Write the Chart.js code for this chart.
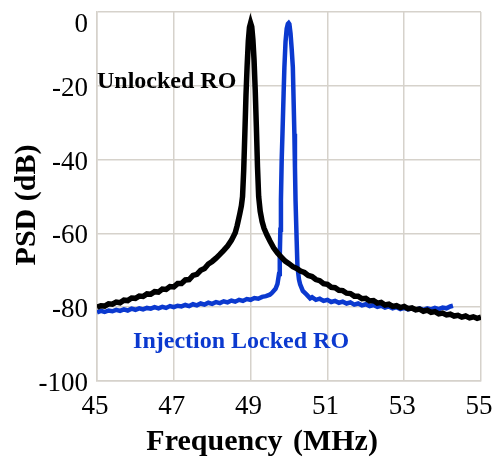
<!DOCTYPE html>
<html>
<head>
<meta charset="utf-8">
<script src="https://cdn.jsdelivr.net/npm/chart.js@4.4.1/dist/chart.umd.min.js"></script>
<style>
  html, body { margin: 0; padding: 0; background: #ffffff; }
  #wrap { width: 492px; height: 459px; }
</style>
</head>
<body>
<div id="wrap"><canvas id="psdChart" width="492" height="459"></canvas></div>
<script>
const seriesNames = ["Unlocked RO", "Injection Locked RO"];
const xTickValues = [45, 47, 49, 51, 53, 55];
const yTickValues = [-100, -80, -60, -40, -20, 0];

// free-running oscillator spectrum (MHz, dB)
const unlockedFreq = [
  45.0, 45.1, 45.2, 45.3, 45.4, 45.5, 45.6, 45.7, 45.8, 45.9,
  46.0, 46.1, 46.2, 46.3, 46.4, 46.5, 46.6, 46.7, 46.8, 46.9,
  47.0, 47.1, 47.2, 47.3, 47.4, 47.5, 47.6, 47.7, 47.8, 47.9,
  48.0, 48.1, 48.2, 48.3, 48.4, 48.5, 48.6, 48.65, 48.72, 48.76,
  48.79, 48.82, 48.85, 48.88, 48.91, 48.94, 48.97, 49.0, 49.03, 49.06,
  49.09, 49.12, 49.15, 49.18, 49.21, 49.25, 49.3, 49.35, 49.42, 49.5,
  49.6, 49.7, 49.8, 49.9, 50.0, 50.1, 50.2, 50.3, 50.4, 50.5,
  50.6, 50.7, 50.8, 50.9, 51.0, 51.1, 51.2, 51.3, 51.4, 51.5,
  51.6, 51.7, 51.8, 51.9, 52.0, 52.1, 52.2, 52.3, 52.4, 52.5,
  52.6, 52.7, 52.8, 52.9, 53.0, 53.1, 53.2, 53.3, 53.4, 53.5,
  53.6, 53.7, 53.8, 53.9, 54.0, 54.1, 54.2, 54.3, 54.4, 54.5,
  54.6, 54.7, 54.8, 54.9, 55.0
];
const unlockedPsd = [
  -80.0, -79.6, -79.7, -79.1, -79.2, -78.6, -78.8, -78.1, -78.2, -77.5,
  -77.6, -77.0, -77.1, -76.4, -76.5, -75.8, -75.9, -75.1, -75.2, -74.4,
  -74.5, -73.6, -73.6, -72.6, -72.5, -71.4, -71.1, -70.0, -69.5, -68.3,
  -67.6, -66.7, -65.7, -64.6, -63.4, -61.9, -59.8, -57.9, -54.6, -52.5,
  -50.0, -43.0, -33.0, -22.5, -14.5, -8.0, -4.2, -3.0, -4.0, -7.5,
  -13.0, -21.0, -31.0, -42.0, -50.0, -54.0, -56.8, -58.6, -60.3, -62.0,
  -63.9, -65.3, -66.4, -67.5, -68.2, -69.0, -69.5, -70.2, -70.6, -71.4,
  -71.7, -72.5, -72.8, -73.6, -73.8, -74.6, -74.7, -75.4, -75.5, -76.2,
  -76.3, -77.0, -77.0, -77.7, -77.6, -78.3, -78.2, -78.9, -78.7, -79.4,
  -79.2, -79.8, -79.6, -80.1, -79.8, -80.4, -80.2, -80.7, -80.5, -81.1,
  -80.8, -81.4, -81.2, -81.8, -81.6, -82.1, -81.9, -82.4, -82.2, -82.7,
  -82.4, -82.9, -82.6, -83.0, -82.7
];

// injection locked spectrum (MHz, dB)
const lockedFreq = [
  45.0, 45.1, 45.2, 45.3, 45.4, 45.5, 45.6, 45.7, 45.8, 45.9,
  46.0, 46.1, 46.2, 46.3, 46.4, 46.5, 46.6, 46.7, 46.8, 46.9,
  47.0, 47.1, 47.2, 47.3, 47.4, 47.5, 47.6, 47.7, 47.8, 47.9,
  48.0, 48.1, 48.2, 48.3, 48.4, 48.5, 48.6, 48.7, 48.8, 48.9,
  49.0, 49.1, 49.2, 49.3, 49.4, 49.5, 49.55, 49.65, 49.7, 49.74,
  49.76, 49.775, 49.79, 49.81, 49.83, 49.86, 49.88, 49.91, 49.94, 49.97,
  49.99, 50.01, 50.04, 50.07, 50.1, 50.12, 50.14, 50.155, 50.17, 50.2,
  50.22, 50.26, 50.29, 50.36, 50.46, 50.55, 50.6, 50.7, 50.8, 50.9,
  51.0, 51.1, 51.2, 51.3, 51.4, 51.5, 51.6, 51.7, 51.8, 51.9,
  52.0, 52.1, 52.2, 52.3, 52.4, 52.5, 52.6, 52.7, 52.8, 52.9,
  53.0, 53.1, 53.2, 53.3, 53.4, 53.5, 53.6, 53.7, 53.8, 53.9,
  54.0, 54.1, 54.2, 54.27
];
const lockedPsd = [
  -81.4, -81.0, -81.3, -80.9, -81.1, -80.7, -81.0, -80.6, -80.9, -80.4,
  -80.7, -80.3, -80.6, -80.2, -80.4, -80.0, -80.3, -79.9, -80.2, -79.7,
  -80.0, -79.6, -79.8, -79.4, -79.7, -79.2, -79.5, -79.0, -79.3, -78.8,
  -79.1, -78.6, -78.9, -78.4, -78.7, -78.2, -78.5, -78.0, -78.3, -77.8,
  -78.0, -77.5, -77.7, -77.2, -77.0, -76.6, -76.2, -75.0, -73.7, -71.0,
  -66.0, -59.0, -51.0, -40.0, -33.0, -22.0, -15.0, -8.0, -4.5, -3.2,
  -3.0, -3.3, -5.8, -10.0, -15.0, -24.0, -33.0, -42.0, -51.0, -62.0,
  -69.0, -72.5, -73.8, -75.6, -76.6, -77.6, -77.3, -78.0, -77.7, -78.3,
  -78.0, -78.6, -78.3, -78.8, -78.5, -79.0, -78.7, -79.3, -79.0, -79.5,
  -79.2, -79.7, -79.4, -79.9, -79.6, -80.1, -79.8, -80.3, -80.0, -80.5,
  -80.2, -80.6, -80.3, -80.7, -80.3, -80.7, -80.3, -80.6, -80.2, -80.5,
  -80.1, -80.3, -79.8, -79.6
];

const BLUE = "#0b39cf";
const GRID = "#d6d2cb";
const SERIF = "'Liberation Serif', 'Times New Roman', serif";

function toPoints(xs, ys) {
    return xs.map((x, i) => ({ x: x, y: ys[i] }));
}

// curve names and both axis titles are drawn by hand
const plotNotes = {
    id: "plotNotes",
    afterDatasetsDraw(chart) {
        const { ctx, chartArea, scales } = chart;
        const x = scales.x, y = scales.y;
        ctx.save();
        ctx.textAlign = "left";
        ctx.textBaseline = "alphabetic";
        ctx.font = "bold 24px " + SERIF;
        ctx.fillStyle = "#000000";
        ctx.fillText(seriesNames[0], x.getPixelForValue(45.0), y.getPixelForValue(-20.6));
        ctx.fillStyle = BLUE;
        ctx.fillText(seriesNames[1], x.getPixelForValue(45.94), y.getPixelForValue(-91.1));

        ctx.fillStyle = "#000000";
        ctx.font = "bold 30px " + SERIF;
        ctx.wordSpacing = "3px";
        ctx.textAlign = "center";
        ctx.fillText("Frequency (MHz)", chartArea.left + chartArea.width * 0.43, chartArea.bottom + 69);

        ctx.wordSpacing = "0px";
        ctx.textBaseline = "middle";
        ctx.translate(27, chartArea.top + chartArea.height * 0.523);
        ctx.rotate(-Math.PI / 2);
        ctx.fillText("PSD (dB)", 0, 0);
        ctx.restore();
    }
};

new Chart(document.getElementById("psdChart"), {
    type: "line",
    data: {
        datasets: [{
            label: seriesNames[0],
            data: toPoints(unlockedFreq, unlockedPsd),
            borderColor: "#000000",
            borderWidth: 5.5,
            pointRadius: 0,
            tension: 0
        }, {
            label: seriesNames[1],
            data: toPoints(lockedFreq, lockedPsd),
            borderColor: BLUE,
            borderWidth: 4.5,
            pointRadius: 0,
            tension: 0
        }]
    },
    options: {
        responsive: false,
        animation: false,
        layout: {
            padding: { left: 0, right: 11, top: 12, bottom: 0 }
        },
        plugins: {
            legend: { display: false },
            tooltip: { enabled: false }
        },
        scales: {
            x: {
                type: "linear",
                min: 45,
                max: 55,
                afterBuildTicks: function(scale) {
                    scale.ticks = xTickValues.map(v => ({ value: v }));
                },
                afterFit: function(scale) {
                    scale.height = 78;
                    scale.paddingLeft = 0;
                    scale.paddingRight = 0;
                },
                ticks: {
                    color: "#000000",
                    font: { family: SERIF, size: 27 },
                    padding: 10,
                    labelOffset: -2,
                    maxRotation: 0
                },
                grid: {
                    color: GRID,
                    lineWidth: 1.5,
                    drawTicks: false
                },
                border: { color: GRID, width: 1.5 }
            },
            y: {
                min: -100,
                max: 0,
                afterBuildTicks: function(scale) {
                    scale.ticks = yTickValues.map(v => ({ value: v }));
                },
                afterFit: function(scale) {
                    scale.width = 97;
                    scale.paddingTop = 0;
                    scale.paddingBottom = 0;
                },
                ticks: {
                    color: "#000000",
                    font: { family: SERIF, size: 27, lineHeight: 0.7 },
                    padding: 9,
                    labelOffset: 3,
                    // the top label sits just below the frame edge
                    callback: function(value) {
                        return value === 0 ? ["", "0"] : value;
                    }
                },
                grid: {
                    color: GRID,
                    lineWidth: 1.5,
                    drawTicks: false
                },
                border: { color: GRID, width: 1.5 }
            }
        }
    },
    plugins: [plotNotes]
});
</script>
</body>
</html>
